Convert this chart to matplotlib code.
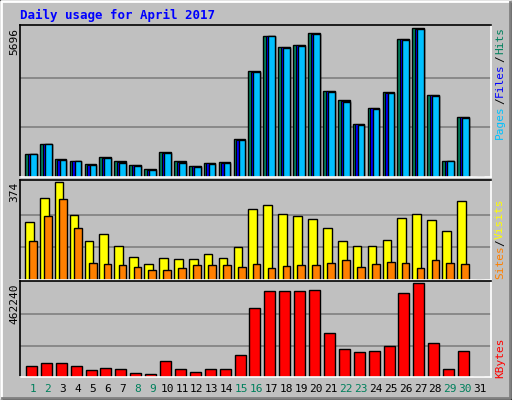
import matplotlib
matplotlib.use("Agg")
import matplotlib.pyplot as plt
import numpy as np
from matplotlib.patches import Rectangle

days = list(range(1, 32))
pages = [863,1250,631,593,477,709,554,438,283,902,554,399,515,554,1405,3995,5387,4923,5000,5464,3260,2874,1985,2603,3222,5232,5660,3106,593,2255,0]
files = [863,1250,660,610,477,720,580,460,283,930,570,410,530,554,1430,4030,5387,4960,5030,5464,3300,2900,2010,2640,3222,5270,5660,3140,593,2290,0]
hits  = [880,1260,680,630,490,760,620,470,290,960,600,430,540,580,1450,4040,5400,4960,5050,5500,3300,2930,2030,2650,3240,5270,5696,3150,610,2300,0]
visits = [220,313,374,248,150,175,130,89,61,85,81,81,98,85,126,272,285,252,244,232,199,150,130,130,154,236,252,228,187,301,0]
sites  = [150,244,309,199,65,61,57,49,37,37,45,57,57,57,49,61,45,53,57,57,65,77,49,61,69,65,45,77,65,61,0]
kbytes = [52000,67000,67000,52000,32000,42000,37000,22000,17000,77000,37000,27000,37000,37000,108000,341000,422000,422000,422000,427000,214000,138000,123000,128000,154000,412000,462240,169000,37000,128000,0]
weekend = [1,2,8,9,15,16,22,23,29,30]

W, H = 512, 400
fig = plt.figure(figsize=(W/100, H/100), dpi=100)
fig.patch.set_facecolor('#C0C0C0')
mono = 'DejaVu Sans Mono'

def fr(x0, y0, x1, y1):
    return [x0/W, 1-y1/H, (x1-x0)/W, (y1-y0)/H]

bg = fig.add_axes([0, 0, 1, 1]); bg.set_axis_off()
bg.set_xlim(0, W); bg.set_ylim(H, 0)
bg.plot([1, 1, W-2], [H-2, 1, 1], color='white', lw=2)
bg.plot([2, W-2, W-2], [H-2, H-2, 2], color='#808080', lw=2)
bg.add_patch(Rectangle((0, 0), W-1, H-1, fill=False, ec='black', lw=1))

xl = (0.128, 31.74)

def panel(y0, y1, vmax):
    ax = fig.add_axes(fr(20, y0, 491, y1))
    ax.set_facecolor('#C0C0C0')
    ax.set_xlim(*xl); ax.set_ylim(0, vmax*1.02)
    for s, c in [('top', 'black'), ('left', 'black'), ('bottom', 'white'), ('right', 'white')]:
        ax.spines[s].set_color(c); ax.spines[s].set_linewidth(1.2)
    ax.set_xticks([]); ax.set_yticks([])
    for f in (1/3, 2/3):
        ax.axhline(vmax*f, color='#808080', lw=1.2, zorder=0)
    return ax

px = 1/14.9
d = np.array(days)

ax1 = panel(25, 177, 5696)
ax1.bar(d - 8*px, hits, width=11.7*px, align='edge', color='#00805C', ec='black', lw=1)
ax1.bar(d - 5.3*px, files, width=9*px, align='edge', color='#0000FF', ec='black', lw=0.8)
ax1.bar(d - 3*px, pages, width=6.7*px, align='edge', color='#00C0FF', ec='black', lw=1)

ax2 = panel(180, 280, 374)
ax2.bar(d - 8*px, visits, width=8.7*px, align='edge', color='#FFFF00', ec='black', lw=1)
ax2.bar(d - 3.7*px, sites, width=7.7*px, align='edge', color='#FF8000', ec='black', lw=1)

ax3 = panel(281, 377, 462240)
ax3.bar(d - 7*px, kbytes, width=11*px, align='edge', color='#FF0000', ec='black', lw=1)

for dd in days:
    fig.text((33 + 14.9*(dd-1))/W, 1-389/H, str(dd), ha='center', va='center',
             fontsize=8, family=mono, color='#00805C' if dd in weekend else 'black')

fig.text(20/W, 1-15/H, 'Daily usage for April 2017', fontsize=9, family=mono,
         weight='bold', color='#0000FF', ha='left', va='center')

for lab, y in [('5696', 28), ('374', 182), ('462240', 283)]:
    fig.text(14/W, 1-y/H, lab, rotation=90, fontsize=8, family=mono, ha='center', va='top')

def rlab(parts):
    for t, c, y in parts:
        fig.text(500/W, 1-y/H, t, rotation=90, fontsize=8, family=mono, color=c,
                 ha='center', va='center')

rlab([('Hits', '#00805C', 40), ('/', 'black', 59), ('Files', '#0000FF', 80), ('/', 'black', 101), ('Pages', '#00C0FF', 122)])
rlab([('Visits', '#FFFF00', 219), ('/', 'black', 243), ('Sites', '#FF8000', 262)])
rlab([('KBytes', '#FF0000', 358)])

fig.savefig('out.png', dpi=100, facecolor=fig.get_facecolor())
